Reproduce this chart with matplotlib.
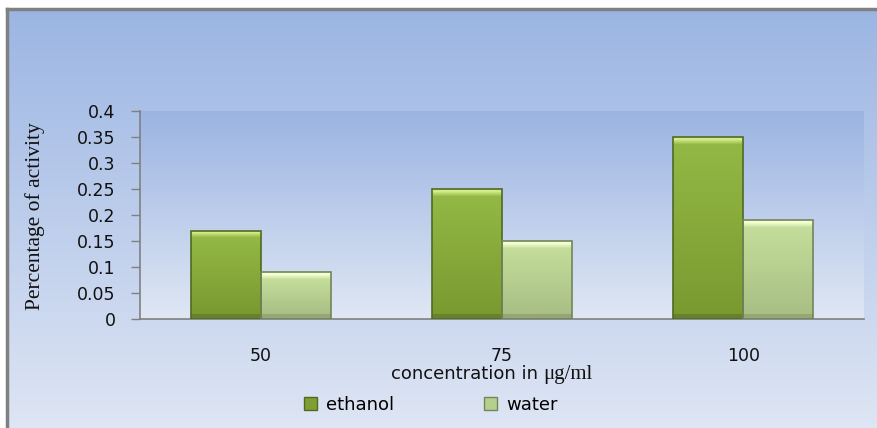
import numpy as np
import matplotlib
matplotlib.use('Agg')
import matplotlib.pyplot as plt
from matplotlib.colors import to_rgb
from matplotlib.patches import Patch

# data
categories = ['50', '75', '100']
ethanol = [0.17, 0.25, 0.35]
water = [0.09, 0.15, 0.19]
yticks = [0, 0.05, 0.1, 0.15, 0.2, 0.25, 0.3, 0.35, 0.4]
ytick_labels = ['0', '0.05', '0.1', '0.15', '0.2', '0.25', '0.3', '0.35', '0.4']

W, H = 878, 428
fig = plt.figure(figsize=(W / 100, H / 100), dpi=100, facecolor='white')


def vgrad(top, bottom, n=256):
    t = np.linspace(0, 1, n)[:, None]
    a, b = np.array(to_rgb(top)), np.array(to_rgb(bottom))
    return (a * (1 - t) + b * t)[:, None, :]


# outer chart area with gray frame on top / left
bg = fig.add_axes([7 / W, -0.01, 1.01 - 7 / W, 1.01 - 9 / H])
bg.imshow(vgrad('#9bb5e3', '#dfe6f4'), aspect='auto', extent=[0, 1, 0, 1])
bg.set_xlim(0, 1)
bg.set_ylim(0, 1)
bg.set_xticks([])
bg.set_yticks([])
for s in ['right', 'bottom']:
    bg.spines[s].set_visible(False)
for s in ['top', 'left']:
    bg.spines[s].set_color('#808080')
    bg.spines[s].set_linewidth(2.5)

# plot area
ax = fig.add_axes([140 / W, 1 - 319 / H, 724 / W, 208 / H])
ax.set_xlim(-0.5, 2.5)
ax.set_ylim(0, 0.4)
ax.imshow(vgrad('#9bb4e2', '#e0e7f4'), aspect='auto',
          extent=[-0.5, 2.5, 0, 0.4], zorder=0)

px_per_unit = 208 / 0.4


def bar_image(h, hi, top, bottom, low):
    n = max(int(h * px_per_unit), 10)
    rows = []
    for i in range(n):
        if i < 2:
            c = np.array(to_rgb(hi))
        elif i < 7:
            f = (i - 2) / 5
            c = np.array(to_rgb(hi)) * (1 - f) + np.array(to_rgb(top)) * f
        elif i > n - 6:
            c = np.array(to_rgb(low))
        else:
            f = (i - 7) / max(n - 13, 1)
            c = np.array(to_rgb(top)) * (1 - f) + np.array(to_rgb(bottom)) * f
        rows.append(c)
    return np.array(rows)[:, None, :]


x = np.arange(len(categories))
bw = 0.29
series = [
    (ethanol, -bw / 2, ('#d3ec88', '#93b845', '#7a9a30', '#66822a'), '#4f6a22'),
    (water, bw / 2, ('#f4ffd2', '#c4dd9a', '#a9bf85', '#94a874'), '#72855a'),
]
for vals, off, cols, edge in series:
    bars = ax.bar(x + off, vals, bw, facecolor='none', edgecolor=edge,
                  linewidth=1.2, zorder=3)
    for rect, v in zip(bars, vals):
        im = ax.imshow(bar_image(v, *cols), aspect='auto',
                       extent=[rect.get_x(), rect.get_x() + bw, 0, v], zorder=2)
        im.set_clip_path(rect)
ax.set_xlim(-0.5, 2.5)
ax.set_ylim(0, 0.4)

ax.set_xticks(x)
ax.set_xticklabels(categories, fontsize=12.5, color='#111111')
ax.tick_params(axis='x', length=0, pad=20)
ax.set_yticks(yticks)
ax.set_yticklabels(ytick_labels, fontsize=12.5, color='#111111')
ax.tick_params(axis='y', length=6.5, width=1, color='#808080', pad=11)
for s in ['top', 'right']:
    ax.spines[s].set_visible(False)
for s in ['left', 'bottom']:
    ax.spines[s].set_color('#808080')
    ax.spines[s].set_linewidth(1.2)

fig.text(35 / W, 1 - 216 / H, 'Percentage of activity', rotation=90,
         ha='center', va='center', fontsize=15.5, family='Liberation Serif',
         color='#111111')
fig.text(538 / W, 1 - 374 / H, 'concentration in', ha='right', va='center',
         fontsize=13, color='#111111')
fig.text(543 / W, 1 - 374 / H, 'μg/ml', ha='left', va='center',
         fontsize=15, family='Liberation Serif', color='#111111')

handles = [Patch(facecolor='#7f9f34', edgecolor='#4f6a22', label='ethanol'),
           Patch(facecolor='#b5cf8c', edgecolor='#72855a', label='water')]
fig.legend(handles=handles, loc='center left', bbox_to_anchor=(288 / W, 1 - 405 / H),
           ncol=2, frameon=False, fontsize=13, handlelength=0.7,
           handleheight=0.7, handletextpad=0.5, columnspacing=5.0)

fig.savefig('out.png', dpi=100, facecolor='white')
